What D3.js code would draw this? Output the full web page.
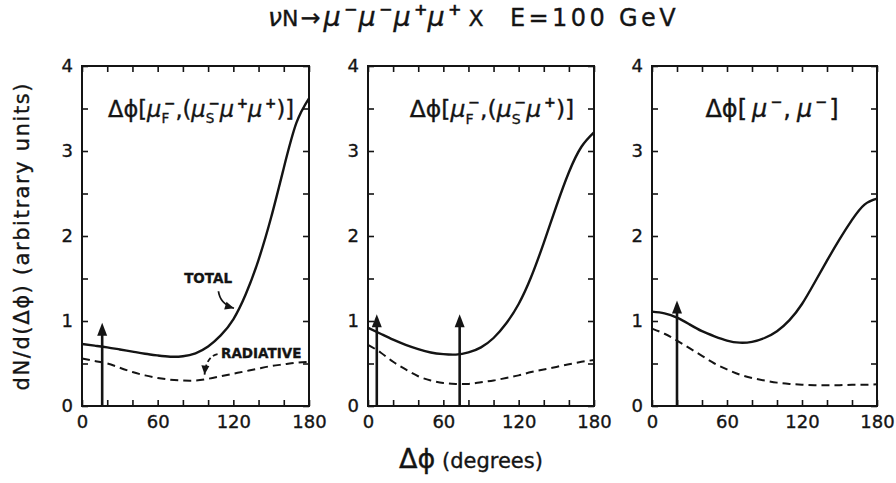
<!DOCTYPE html>
<html>
<head>
<meta charset="utf-8">
<script src="https://cdn.jsdelivr.net/npm/d3@7"></script>
<style>
  body { margin: 0; background: #fff; }
  svg { display: block; }
  text { font-family: "DejaVu Sans", "Liberation Sans", Arial, sans-serif; fill: #141414; stroke: #141414; stroke-width: 0.35px; }
</style>
</head>
<body>
<svg id="chart" width="896" height="483"></svg>
<script>
// Azimuthal separation (degrees) at which the curves are sampled
const angles = [0, 10, 20, 30, 40, 50, 60, 70, 80, 90, 100, 110, 120, 130, 140, 150, 160, 170, 180];

// Panel 1: Δφ[μF⁻, (μS⁻ μ⁺ μ⁺)]
const total1     = [0.73, 0.71, 0.69, 0.665, 0.64, 0.615, 0.595, 0.58, 0.585, 0.62, 0.70, 0.83, 1.02, 1.32, 1.72, 2.22, 2.80, 3.33, 3.62];
const radiative1 = [0.56, 0.53, 0.50, 0.45, 0.40, 0.36, 0.33, 0.31, 0.30, 0.30, 0.32, 0.35, 0.38, 0.41, 0.44, 0.47, 0.49, 0.51, 0.52];
const spikes1    = [[16, 0.98]];

// Panel 2: Δφ[μF⁻, (μS⁻ μ⁺)]
const total2     = [0.92, 0.85, 0.78, 0.72, 0.67, 0.63, 0.61, 0.605, 0.63, 0.69, 0.80, 0.97, 1.20, 1.52, 1.92, 2.35, 2.75, 3.05, 3.22];
const radiative2 = [0.72, 0.63, 0.52, 0.43, 0.35, 0.30, 0.27, 0.26, 0.26, 0.28, 0.30, 0.33, 0.36, 0.40, 0.43, 0.46, 0.49, 0.52, 0.54];
const spikes2    = [[7, 1.08], [73, 1.08]];

// Panel 3: Δφ[μ⁻, μ⁻]
const total3     = [1.11, 1.09, 1.04, 0.96, 0.88, 0.82, 0.77, 0.745, 0.755, 0.80, 0.88, 1.01, 1.20, 1.45, 1.71, 1.96, 2.19, 2.37, 2.44];
const radiative3 = [0.91, 0.85, 0.77, 0.68, 0.59, 0.50, 0.43, 0.37, 0.33, 0.30, 0.275, 0.26, 0.25, 0.245, 0.245, 0.245, 0.25, 0.25, 0.255];
const spikes3    = [[20, 1.24]];

// Axis ticks
const xTickLabels = [0, 60, 120, 180];
const xTickMarks  = [0, 20, 40, 60, 80, 100, 120, 140, 160, 180];
const yTickLabels = [0, 1, 2, 3, 4];
const yTickMarks  = [0, 0.5, 1, 1.5, 2, 2.5, 3, 3.5, 4];

const INK = "#141414";
const svg = d3.select("#chart");

// Lays out text with italic letters and stacked super/subscripts.
// parts: {t, it, size, sup, sub, gap}
function rich(parent, x, y, parts, size, anchor) {
  const txt = parent.append("text").attr("font-size", size);
  let cx = 0;
  const spans = [];
  parts.forEach(p => {
    const fs = p.size || size;
    if (p.t) {
      const s = txt.append("tspan").attr("y", y).attr("font-size", fs).text(p.t);
      if (p.it) s.attr("font-style", "italic");
      spans.push([s, cx]);
      cx += s.node().getComputedTextLength();
    }
    let w = 0;
    if (p.sup) {
      // small shift clears the italic overhang of the base letter
      const shift = p.it ? fs * 0.12 : 0;
      const s = txt.append("tspan").attr("y", y - fs * 0.42)
        .attr("font-size", fs * 0.6).attr("font-weight", "bold").text(p.sup);
      spans.push([s, cx + shift]);
      w = Math.max(w, s.node().getComputedTextLength() + shift);
    }
    if (p.sub) {
      const s = txt.append("tspan").attr("y", y + fs * 0.28)
        .attr("font-size", fs * 0.6).text(p.sub);
      spans.push([s, cx]);
      w = Math.max(w, s.node().getComputedTextLength());
    }
    cx += w + (p.gap || 0);
  });
  const off = anchor === "middle" ? -cx / 2 : anchor === "end" ? -cx : 0;
  spans.forEach(([s, dx]) => s.attr("x", x + off + dx));
  return txt;
}

const panels = [
  { left: 82,  right: 309, total: total1, radiative: radiative1, spikes: spikes1,
    label: [{t: "Δϕ["}, {t: "μ", it: true, sup: "−", sub: "F"}, {t: ",("},
            {t: "μ", it: true, sup: "−", sub: "S"}, {t: "μ", it: true, sup: "+"},
            {t: "μ", it: true, sup: "+"}, {t: ")]"}],
    labelX: 201, fs: 22.5, notes: true },
  { left: 368, right: 594, total: total2, radiative: radiative2, spikes: spikes2,
    label: [{t: "Δϕ["}, {t: "μ", it: true, sup: "−", sub: "F"}, {t: ",("},
            {t: "μ", it: true, sup: "−", sub: "S"}, {t: "μ", it: true, sup: "+"}, {t: ")]"}],
    labelX: 492, fs: 23.5 },
  { left: 652, right: 877, total: total3, radiative: radiative3, spikes: spikes3,
    label: [{t: "Δϕ[", gap: 5}, {t: "μ", it: true, sup: "−", gap: 1}, {t: ",", gap: 6},
            {t: "μ", it: true, sup: "−", gap: 2}, {t: "]"}],
    labelX: 772, fs: 24 }
];

const TOP = 66, BOTTOM = 406;

panels.forEach(p => {
  const x = d3.scaleLinear().domain([0, 180]).range([p.left, p.right]);
  const y = d3.scaleLinear().domain([0, 4]).range([BOTTOM, TOP]);
  const g = svg.append("g");

  // frame
  g.append("rect").attr("x", p.left).attr("y", TOP)
    .attr("width", p.right - p.left).attr("height", BOTTOM - TOP)
    .attr("fill", "none").attr("stroke", INK).attr("stroke-width", 2);

  const styleAxis = a => {
    a.select(".domain").remove();
    a.selectAll(".tick line").attr("stroke", INK).attr("stroke-width", 1.6);
    a.selectAll(".tick text").attr("fill", INK).attr("font-size", 18)
      .attr("font-family", "\"DejaVu Sans\", \"Liberation Sans\", sans-serif");
  };

  g.append("g").attr("transform", `translate(0,${BOTTOM})`)
    .call(d3.axisBottom(x).tickValues(xTickMarks).tickSize(-6).tickPadding(9)
      .tickFormat(d => xTickLabels.includes(d) ? d : ""))
    .call(styleAxis);
  g.append("g").attr("transform", `translate(0,${TOP})`)
    .call(d3.axisTop(x).tickValues(xTickMarks).tickSize(-6).tickFormat(""))
    .call(styleAxis);
  g.append("g").attr("transform", `translate(${p.left},0)`)
    .call(d3.axisLeft(y).tickValues(yTickMarks).tickSize(-6).tickPadding(9)
      .tickFormat(d => yTickLabels.includes(d) ? d : ""))
    .call(styleAxis);
  g.append("g").attr("transform", `translate(${p.right},0)`)
    .call(d3.axisRight(y).tickValues(yTickMarks).tickSize(-6).tickFormat(""))
    .call(styleAxis);

  const line = d3.line().x((d, i) => x(angles[i])).y(d => y(d))
    .curve(d3.curveNatural);

  g.append("path").datum(p.radiative).attr("d", line)
    .attr("fill", "none").attr("stroke", INK).attr("stroke-width", 2)
    .attr("stroke-dasharray", "8,5");
  g.append("path").datum(p.total).attr("d", line)
    .attr("fill", "none").attr("stroke", INK).attr("stroke-width", 2.4);

  // vertical spikes with arrowheads
  p.spikes.forEach(([a, v]) => {
    const sx = x(a), tip = y(v);
    g.append("line").attr("x1", sx).attr("x2", sx).attr("y1", y(0)).attr("y2", tip + 8)
      .attr("stroke", INK).attr("stroke-width", 2.6);
    g.append("path").attr("d", `M${sx},${tip} L${sx - 5},${tip + 13} L${sx + 5},${tip + 13} Z`)
      .attr("fill", INK);
  });

  rich(g, p.labelX, 117, p.label, p.fs, "middle");

  if (p.notes) {
    // TOTAL note with curved pointer
    g.append("text").attr("x", x(100)).attr("y", 283).attr("text-anchor", "middle")
      .attr("font-size", 13.5).attr("font-weight", "bold").text("TOTAL");
    const s = [x(108.2), y(1.35)], c = [x(109.5), y(1.2)], e = [x(120.5), y(1.15)];
    g.append("path").attr("d", `M${s[0]},${s[1]} Q${c[0]},${c[1]} ${e[0]},${e[1]}`)
      .attr("fill", "none").attr("stroke", INK).attr("stroke-width", 1.8);
    arrowHead(g, c, e);

    g.append("text").attr("x", 221).attr("y", 358)
      .attr("font-size", 13.5).attr("font-weight", "bold").text("RADIATIVE");
    const s2 = [x(107.5), y(0.61)], c2 = [x(98.5), y(0.585)], e2 = [x(97.2), y(0.37)];
    g.append("path").attr("d", `M${s2[0]},${s2[1]} Q${c2[0]},${c2[1]} ${e2[0]},${e2[1]}`)
      .attr("fill", "none").attr("stroke", INK).attr("stroke-width", 1.8)
      .attr("stroke-dasharray", "5,3");
    arrowHead(g, c2, e2);
  }
});

function arrowHead(g, from, to) {
  const ang = Math.atan2(to[1] - from[1], to[0] - from[0]);
  const L = 9, W = 4;
  const bx = to[0] - L * Math.cos(ang), by = to[1] - L * Math.sin(ang);
  const px = -Math.sin(ang) * W, py = Math.cos(ang) * W;
  g.append("path")
    .attr("d", `M${to[0]},${to[1]} L${bx + px},${by + py} L${bx - px},${by - py} Z`)
    .attr("fill", INK);
}

// Title
const title = svg.append("g");
rich(title, 268, 26, [
  {t: "ν", it: true, size: 25}, {t: "N", size: 22, gap: 2}, {t: "→", size: 24, gap: 3},
  {t: "μ", it: true, size: 27, sup: "−", gap: 1},
  {t: "μ", it: true, size: 27, sup: "−", gap: 1},
  {t: "μ", it: true, size: 27, sup: "+"},
  {t: "μ", it: true, size: 27, sup: "+"}, {t: " X", size: 22}
], 22, "start");
title.append("text").attr("x", 510).attr("y", 26).attr("font-size", 24)
  .attr("letter-spacing", 3.4).text("E=100 GeV");

// Axis titles
svg.append("text").attr("transform", "translate(29,237) rotate(-90)")
  .attr("text-anchor", "middle").attr("font-size", 21)
  .attr("textLength", 307).attr("lengthAdjust", "spacing")
  .text("dN/d(Δϕ) (arbitrary units)");

const xt = svg.append("text").attr("x", 471).attr("y", 468).attr("text-anchor", "middle");
xt.append("tspan").attr("font-size", 27).text("Δϕ");
xt.append("tspan").attr("font-size", 21).text("  (degrees)");
</script>
</body>
</html>
